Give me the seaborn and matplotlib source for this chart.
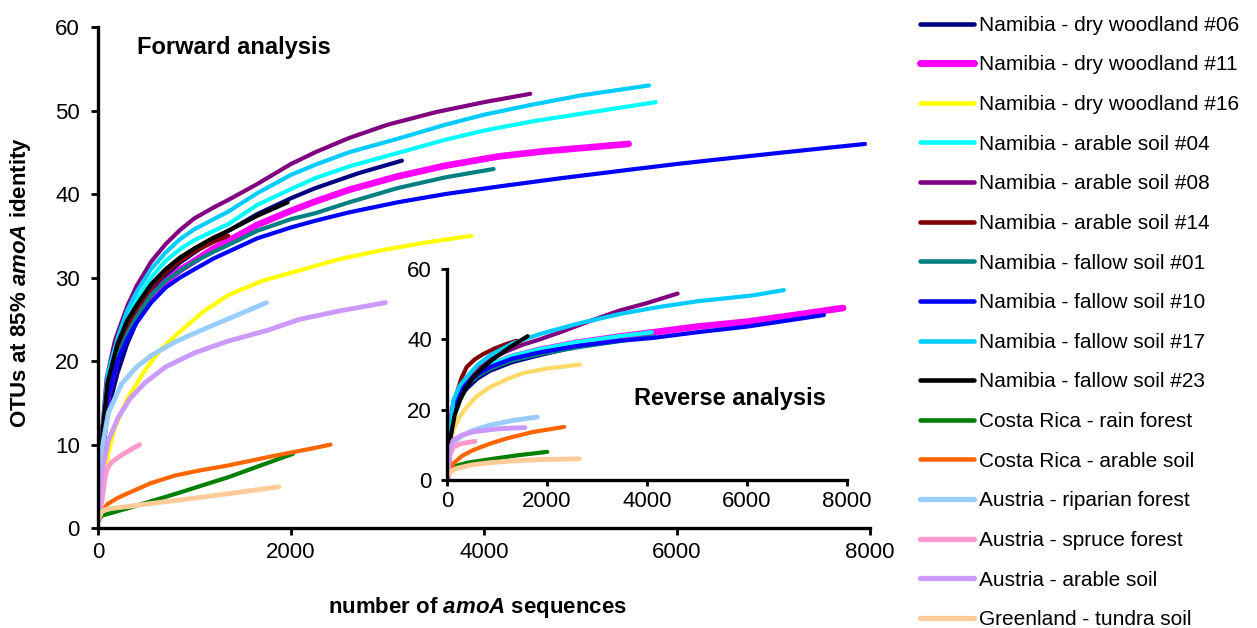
#!/usr/bin/env python3
"""
Rarefaction curves of amoA sequences (forward analysis) with an inset of
the reverse analysis, OTUs defined at 85% amoA identity.
"""

import matplotlib
matplotlib.use("Agg")
import matplotlib.pyplot as plt
import seaborn as sns
from matplotlib.lines import Line2D

# ---- labels and colours -------------------------------------------------
SITES = [
    "Namibia - dry woodland #06",
    "Namibia - dry woodland #11",
    "Namibia - dry woodland #16",
    "Namibia - arable soil #04",
    "Namibia - arable soil #08",
    "Namibia - arable soil #14",
    "Namibia - fallow soil #01",
    "Namibia - fallow soil #10",
    "Namibia - fallow soil #17",
    "Namibia - fallow soil #23",
    "Costa Rica - rain forest",
    "Costa Rica - arable soil",
    "Austria - riparian forest",
    "Austria - spruce forest",
    "Austria - arable soil",
    "Greenland - tundra soil",
]
COLORS = ["#000080", "#FF00FF", "#FFFF00", "#00FFFF", "#800080", "#800000",
          "#008080", "#0000FF", "#00CCFF", "#000000", "#008000", "#FF6600",
          "#99CCFF", "#FF99CC", "#CC99FF", "#FFCC99"]

# ---- forward analysis (sequences, OTUs) ---------------------------------
fwd_dw06_x = [1, 50, 100, 200, 300, 400, 550, 700, 850, 1000, 1200, 1350, 1650, 2000, 2250, 2700, 3150]
fwd_dw06_y = [1, 9, 14, 18.5, 22, 24.7, 28, 30.2, 31.8, 33, 34.6, 35.6, 37.6, 39.5, 40.7, 42.5, 44]
fwd_dw11_x = [1, 50, 100, 200, 300, 400, 550, 700, 850, 1000, 1200, 1350, 1650, 2000, 2250, 2600,
              3100, 3600, 4150, 4600, 5000, 5500]
fwd_dw11_y = [1, 11, 16, 20.5, 23, 25.2, 27.7, 29.5, 30.9, 32, 33.5, 34.4, 36.3, 38, 39.1, 40.5,
              42.1, 43.4, 44.5, 45.1, 45.5, 46]
fwd_dw16_x = [1, 50, 107, 176, 314, 486, 658, 865, 1100, 1350, 1700, 2100, 2500, 2950, 3400, 3870]
fwd_dw16_y = [1, 5, 9, 12.1, 15.7, 18.9, 21.5, 23.7, 26, 27.9, 29.6, 30.9, 32.2, 33.3, 34.2, 35]
fwd_as04_x = [1, 50, 100, 245, 300, 400, 550, 700, 850, 1000, 1200, 1350, 1650, 2000, 2250, 2600,
              3100, 3600, 4000, 4500, 5000, 5780]
fwd_as04_y = [1, 11, 17.5, 23.5, 25.2, 27.3, 30, 32, 33.4, 34.5, 35.6, 36.4, 38.7, 40.6, 41.9, 43.3,
              44.9, 46.5, 47.6, 48.7, 49.6, 51]
fwd_as08_x = [1, 30, 90, 176, 300, 400, 550, 700, 850, 1000, 1200, 1350, 1650, 2000, 2250, 2600,
              3000, 3500, 4000, 4480]
fwd_as08_y = [1, 10, 18, 22.5, 26.5, 29, 31.9, 34, 35.7, 37.1, 38.4, 39.3, 41.2, 43.6, 45, 46.7,
              48.3, 49.8, 51, 52]
fwd_as14_x = [1, 50, 100, 200, 300, 400, 550, 700, 850, 1000, 1200, 1350]
fwd_as14_y = [1, 11, 17, 21.5, 24.2, 26.2, 28.8, 30.6, 32, 33.1, 34.3, 35]
fwd_fs01_x = [1, 50, 100, 200, 300, 400, 550, 700, 850, 1000, 1200, 1350, 1650, 2000, 2250, 2600,
              3100, 3600, 4100]
fwd_fs01_y = [1, 10, 16, 20.5, 23.2, 25.3, 27.9, 29.6, 30.8, 31.9, 33.1, 33.9, 35.6, 37, 37.7, 39,
              40.7, 42, 43]
fwd_fs10_x = [1, 50, 100, 200, 300, 400, 550, 700, 850, 1000, 1200, 1350, 1650, 2000, 2250, 2600,
              3100, 3600, 4150, 4800, 5500, 6000, 6550, 7200, 7950]
fwd_fs10_y = [1, 10, 15.5, 20, 22.6, 24.6, 27, 28.8, 30, 31, 32.3, 33.1, 34.7, 36, 36.8, 37.8,
              39, 40, 40.9, 41.9, 42.9, 43.6, 44.3, 45.1, 46]
fwd_fs17_x = [1, 50, 100, 210, 300, 400, 550, 700, 850, 1000, 1200, 1350, 1650, 2000, 2250, 2600,
              3100, 3600, 4000, 4500, 5000, 5710]
fwd_fs17_y = [1, 12, 18.5, 23, 26, 28.3, 31, 33, 34.6, 35.8, 37, 37.9, 40.1, 42.3, 43.5, 45,
              46.6, 48.3, 49.5, 50.7, 51.8, 53]
fwd_fs23_x = [1, 50, 100, 200, 300, 400, 550, 700, 850, 1000, 1200, 1350, 1650, 1965]
fwd_fs23_y = [1, 12, 17.5, 22, 24.8, 26.7, 29.2, 31, 32.4, 33.5, 34.8, 35.6, 37.4, 39]
fwd_crrf_x = [1, 40, 314, 830, 1350, 2020]
fwd_crrf_y = [1, 1.5, 2.4, 4.2, 6.1, 8.9]
fwd_cras_x = [1, 40, 100, 200, 314, 550, 797, 1050, 1347, 1800, 2245, 2410]
fwd_cras_y = [1, 2.1, 2.9, 3.6, 4.2, 5.4, 6.3, 6.9, 7.5, 8.6, 9.6, 10]
fwd_atrf_x = [1, 38, 107, 245, 400, 555, 800, 1071, 1400, 1745]
fwd_atrf_y = [1, 9.3, 13.8, 17.3, 19.3, 20.7, 22.3, 23.7, 25.3, 27]
fwd_atsf_x = [1, 30, 55, 75, 100, 141, 250, 430]
fwd_atsf_y = [1, 2.5, 4.5, 6.3, 7.2, 7.9, 8.8, 10]
fwd_atas_x = [1, 38, 107, 207, 330, 486, 700, 1003, 1350, 1760, 2089, 2500, 2978]
fwd_atas_y = [1, 6.6, 10.5, 13.2, 15.5, 17.4, 19.3, 21, 22.4, 23.7, 25, 26, 27]
fwd_grts_x = [1, 40, 100, 314, 650, 1003, 1400, 1875]
fwd_grts_y = [1, 2, 2.3, 2.6, 3.1, 3.6, 4.2, 4.95]

# ---- reverse analysis (inset) -------------------------------------------
rev_dw06_x = [1, 50, 120, 250, 390, 600, 850, 1300, 1850, 2400, 3000]
rev_dw06_y = [1, 10, 18, 23.3, 26, 28.8, 31, 33.5, 35.5, 37.3, 39]
rev_dw11_x = [1, 50, 120, 250, 390, 600, 855, 1300, 1857, 2600, 3458, 4130, 5000, 6000, 7000, 7930]
rev_dw11_y = [1, 11, 20.5, 25, 27.8, 30.5, 32.5, 35, 37, 39, 40.8, 42, 43.6, 45, 47, 48.9]
rev_dw16_x = [1, 50, 122, 250, 388, 600, 855, 1200, 1523, 2000, 2658]
rev_dw16_y = [1, 8, 14.2, 18, 20.7, 23.9, 26.4, 28.7, 30.4, 31.7, 32.8]
rev_as04_x = [1, 50, 122, 250, 388, 600, 855, 1300, 1857, 2600, 3458, 4100]
rev_as04_y = [1, 11, 21, 25.5, 28, 30.7, 32.8, 35.3, 37.2, 39.2, 40.9, 42]
rev_as08_x = [1, 50, 122, 250, 388, 600, 850, 1190, 1500, 1857, 2300, 2858, 3458, 4000, 4614]
rev_as08_y = [1, 10, 19, 24.5, 28.3, 31.8, 34.3, 36.6, 38.4, 40, 42.2, 45.2, 48.2, 50.3, 53]
rev_as14_x = [1, 50, 120, 188, 280, 388, 550, 722, 950, 1190, 1390]
rev_as14_y = [1, 12, 19.5, 24.5, 28.8, 32.1, 34.3, 35.8, 37.4, 38.7, 39.6]
rev_fs01_x = [1, 50, 122, 250, 388, 600, 855, 1300, 1857, 2600, 3458, 4147]
rev_fs01_y = [1, 10, 20, 24.3, 27, 29.5, 31.6, 34, 35.8, 37.7, 39.5, 40.8]
rev_fs10_x = [1, 50, 122, 250, 388, 600, 855, 1300, 1857, 2600, 3458, 4130, 5000, 6000, 6800, 7545]
rev_fs10_y = [1, 11, 20.7, 24.8, 27.4, 30, 32.1, 34.5, 36.3, 38.1, 39.6, 40.4, 42, 43.6, 45.3, 46.9]
rev_fs17_x = [1, 50, 122, 250, 388, 600, 855, 1300, 1857, 2600, 3458, 4200, 5000, 5600, 6130, 6745]
rev_fs17_y = [1, 13, 22.6, 26.8, 29.2, 32.6, 35.4, 38.8, 41.5, 44.4, 47.2, 49.1, 50.8, 51.7, 52.5, 54]
rev_fs23_x = [1, 55, 150, 254, 380, 521, 700, 922, 1250, 1610]
rev_fs23_y = [1, 11.3, 18.5, 22.6, 26.3, 29.2, 31.8, 34.4, 37.7, 40.9]
rev_crrf_x = [1, 122, 400, 855, 1400, 2003]
rev_crrf_y = [1, 3.8, 4.9, 5.9, 7, 8]
rev_cras_x = [1, 122, 300, 521, 850, 1190, 1700, 2344]
rev_cras_y = [1, 4.7, 6.9, 8.5, 10.3, 11.8, 13.6, 15.1]
rev_atrf_x = [1, 50, 254, 500, 855, 1300, 1803]
rev_atrf_y = [1, 9, 12.3, 14, 15.6, 16.9, 17.9]
rev_atsf_x = [1, 50, 122, 300, 555]
rev_atsf_y = [1, 7, 9.4, 10.4, 11]
rev_atas_x = [1, 40, 122, 300, 521, 800, 1055, 1556]
rev_atas_y = [1, 8, 11.3, 12.8, 13.7, 14.2, 14.6, 14.9]
rev_grts_x = [1, 50, 188, 500, 855, 1300, 1857, 2644]
rev_grts_y = [1, 2.2, 3.3, 4.3, 4.9, 5.4, 5.8, 6.0]

FWD = [(fwd_dw06_x, fwd_dw06_y), (fwd_dw11_x, fwd_dw11_y), (fwd_dw16_x, fwd_dw16_y),
       (fwd_as04_x, fwd_as04_y), (fwd_as08_x, fwd_as08_y), (fwd_as14_x, fwd_as14_y),
       (fwd_fs01_x, fwd_fs01_y), (fwd_fs10_x, fwd_fs10_y), (fwd_fs17_x, fwd_fs17_y),
       (fwd_fs23_x, fwd_fs23_y), (fwd_crrf_x, fwd_crrf_y), (fwd_cras_x, fwd_cras_y),
       (fwd_atrf_x, fwd_atrf_y), (fwd_atsf_x, fwd_atsf_y), (fwd_atas_x, fwd_atas_y),
       (fwd_grts_x, fwd_grts_y)]
REV = [(rev_dw06_x, rev_dw06_y), (rev_dw11_x, rev_dw11_y), (rev_dw16_x, rev_dw16_y),
       (rev_as04_x, rev_as04_y), (rev_as08_x, rev_as08_y), (rev_as14_x, rev_as14_y),
       (rev_fs01_x, rev_fs01_y), (rev_fs10_x, rev_fs10_y), (rev_fs17_x, rev_fs17_y),
       (rev_fs23_x, rev_fs23_y), (rev_crrf_x, rev_crrf_y), (rev_cras_x, rev_cras_y),
       (rev_atrf_x, rev_atrf_y), (rev_atsf_x, rev_atsf_y), (rev_atas_x, rev_atas_y),
       (rev_grts_x, rev_grts_y)]

LINE_W = [3, 4.8, 3, 3, 3, 3, 3, 3, 3, 3, 3, 3, 3.5, 3.5, 3.5, 3.5]
INSET_YELLOW = "#FFD966"


def style_axes(ax, fs, xpad, ypad, length):
    sns.despine(ax=ax)
    for side in ("left", "bottom"):
        ax.spines[side].set_linewidth(2.4)
        ax.spines[side].set_color("black")
    ax.tick_params(axis="both", direction="out", length=length, width=2,
                   labelsize=fs, color="black", labelcolor="black",
                   left=True, bottom=True)
    ax.tick_params(axis="x", pad=xpad)
    ax.tick_params(axis="y", pad=ypad)


def draw_curves(ax, series, rev=False):
    for i, (x, y) in enumerate(series):
        color = COLORS[i]
        if rev and i == 2:
            color = INSET_YELLOW
        sns.lineplot(x=x, y=y, ax=ax, color=color, lw=LINE_W[i], sort=False,
                     estimator=None, solid_capstyle="round",
                     solid_joinstyle="round", legend=False)


def main():
    sns.set_theme(style="white")
    plt.rcParams["font.family"] = ["Liberation Sans", "DejaVu Sans"]
    plt.rcParams["text.color"] = "black"
    plt.rcParams["axes.labelcolor"] = "black"
    plt.rcParams["mathtext.fontset"] = "custom"
    plt.rcParams["mathtext.rm"] = "Liberation Sans:bold"
    plt.rcParams["mathtext.it"] = "Liberation Sans:bold:italic"
    plt.rcParams["mathtext.bf"] = "Liberation Sans:bold"

    fig = plt.figure(figsize=(12.57, 6.28), dpi=100)

    # main axes
    ax = fig.add_axes([0.078, 0.159, 0.614, 0.798])
    draw_curves(ax, FWD)
    ax.set_xlim(0, 8000)
    ax.set_ylim(0, 60)
    ax.set_xticks([0, 2000, 4000, 6000, 8000])
    ax.set_yticks(range(0, 61, 10))
    style_axes(ax, 16, xpad=5, ypad=8, length=5)
    ax.set_xlabel(r"number of $\mathit{amoA}$ sequences", fontsize=16,
                  fontweight="bold")
    ax.set_ylabel(r"OTUs at 85% $\mathit{amoA}$ identity", fontsize=16,
                  fontweight="bold")
    ax.xaxis.set_label_coords(0.492, -0.133)
    ax.yaxis.set_label_coords(-0.084, 0.49)
    ax.text(400, 57.6, "Forward analysis", fontsize=17, fontweight="bold",
            va="center", ha="left")

    # inset axes (reverse analysis)
    ins = fig.add_axes([0.3558, 0.2357, 0.3177, 0.336])
    ins.patch.set_alpha(0)
    draw_curves(ins, REV, rev=True)
    ins.set_xlim(0, 8000)
    ins.set_ylim(0, 60)
    ins.set_xticks([0, 2000, 4000, 6000, 8000])
    ins.set_yticks([0, 20, 40, 60])
    style_axes(ins, 16, xpad=4, ypad=7, length=4)
    ins.set_xlabel("")
    ins.set_ylabel("")
    ins.text(3740, 23.2, "Reverse analysis", fontsize=17, fontweight="bold",
             va="center", ha="left")

    # legend
    handles = [Line2D([0], [0], color=COLORS[i], lw=LINE_W[i] + 0.3,
                      solid_capstyle="round") for i in range(len(SITES))]
    fig.legend(handles, SITES, loc="upper left", bbox_to_anchor=(0.725, 0.988),
               frameon=False, fontsize=15, handlelength=2.6, handletextpad=0.25,
               labelspacing=0.99, borderaxespad=0)

    fig.savefig("out.png", dpi=100, facecolor="white")
    plt.close(fig)


if __name__ == "__main__":
    main()
